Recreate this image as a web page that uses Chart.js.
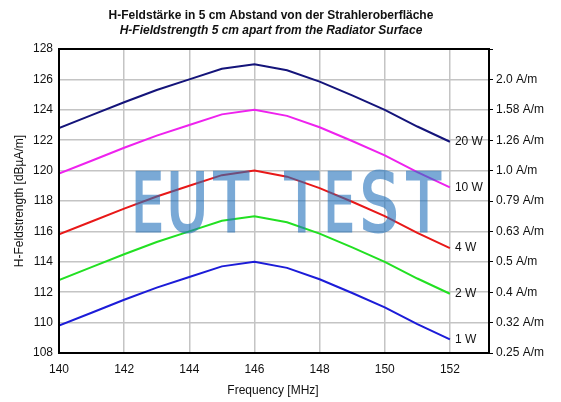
<!DOCTYPE html>
<html>
<head>
<meta charset="utf-8">
<script src="https://cdn.jsdelivr.net/npm/chart.js@4.4.1/dist/chart.umd.min.js"></script>
<style>
  html, body { margin: 0; padding: 0; background: #fff; }
  #wrap { width: 561px; height: 402px; }
</style>
</head>
<body>
<div id="wrap"><canvas id="feldChart" width="561" height="402"></canvas></div>
<script>
const freq = [140, 141, 142, 143, 144, 145, 146, 147, 148, 149, 150, 151, 152];
const w20 = [122.8, 123.65, 124.5, 125.3, 126.0, 126.7, 127.0, 126.6, 125.85, 124.95, 124.0, 122.9, 121.9];
const w10 = [119.8, 120.65, 121.5, 122.3, 123.0, 123.7, 124.0, 123.6, 122.85, 121.95, 121.0, 119.9, 118.9];
const w4  = [115.8, 116.65, 117.5, 118.3, 119.0, 119.7, 120.0, 119.6, 118.85, 117.95, 117.0, 115.9, 114.9];
const w2  = [112.8, 113.65, 114.5, 115.3, 116.0, 116.7, 117.0, 116.6, 115.85, 114.95, 114.0, 112.9, 111.9];
const w1  = [109.8, 110.65, 111.5, 112.3, 113.0, 113.7, 114.0, 113.6, 112.85, 111.95, 111.0, 109.9, 108.9];

const seriesNames = ['20 W', '10 W', '4 W', '2 W', '1 W'];
const seriesColors = ['#14147a', '#ee22ee', '#e81818', '#22e022', '#1c1cd8'];

const xTicks = [140, 142, 144, 146, 148, 150, 152];
const yTicks = [108, 110, 112, 114, 116, 118, 120, 122, 124, 126, 128];
const amTicks = ['0.25 A/m', '0.32 A/m', '0.4 A/m', '0.5 A/m', '0.63 A/m', '0.79 A/m',
                 '1.0 A/m', '1.26 A/m', '1.58 A/m', '2.0 A/m', ''];

const FONT = '"Liberation Sans", Arial, sans-serif';

// Wasserzeichen Buchstabe für Buchstabe: [Zeichen, linke Kante, Breite]
const wmLetters = [['E', 135, 27], ['U', 170, 35], ['T', 212, 38],
                   ['T', 283, 37], ['E', 327, 26], ['S', 362, 35], ['T', 405, 37]];

function toPoints(arr) {
    return arr.map((v, i) => ({ x: freq[i], y: v }));
}

const datasets = [w20, w10, w4, w2, w1].map((arr, i) => ({
    label: seriesNames[i],
    data: toPoints(arr),
    borderColor: seriesColors[i],
    borderWidth: 2,
    pointRadius: 0,
    tension: 0,
    fill: false
}));

// Wasserzeichen erst deckend auf eigene Leinwand, dann halbtransparent drüber
function watermark(chart) {
    const off = document.createElement('canvas');
    off.width = chart.width;
    off.height = chart.height;
    const c = off.getContext('2d');
    c.font = '81px "DejaVu Sans Condensed", "DejaVu Sans", sans-serif';
    c.textBaseline = 'alphabetic';
    c.fillStyle = '#2271bb';
    c.strokeStyle = '#2271bb';
    c.lineWidth = 3;
    wmLetters.forEach(([ch, left, width]) => {
        const m = c.measureText(ch);
        const ink = m.actualBoundingBoxLeft + m.actualBoundingBoxRight;
        const sx = (width - 3) / ink;
        c.save();
        c.translate(left + 1.5, 230.5);
        c.scale(sx, 1);
        c.translate(m.actualBoundingBoxLeft, 0);
        c.strokeText(ch, 0, 0);
        c.fillText(ch, 0, 0);
        c.restore();
    });
    return off;
}

// Texte, Rahmen, Beschriftungen und Wasserzeichen
const extras = {
    id: 'extras',
    afterDatasetsDraw(chart) {
        const ctx = chart.ctx;
        const a = chart.chartArea;
        const xs = chart.scales.x;
        const ys = chart.scales.y;
        ctx.save();

        // Rahmen
        ctx.strokeStyle = '#000';
        ctx.lineWidth = 2;
        ctx.strokeRect(a.left, a.top, a.right - a.left, a.bottom - a.top);

        // Leistungsangaben am Kurvenende
        ctx.fillStyle = '#111';
        ctx.font = '12px ' + FONT;
        ctx.textAlign = 'left';
        ctx.textBaseline = 'middle';
        chart.data.datasets.forEach(ds => {
            const last = ds.data[ds.data.length - 1];
            ctx.fillText(ds.label, xs.getPixelForValue(last.x) + 5, ys.getPixelForValue(last.y));
        });

        ctx.globalAlpha = 0.6;
        ctx.setTransform(1, 0, 0, 1, 0, 0);
        ctx.drawImage(watermark(chart), 0, 0, chart.canvas.width, chart.canvas.height);
        ctx.restore();

        ctx.save();
        ctx.fillStyle = '#111';
        ctx.textAlign = 'center';
        ctx.textBaseline = 'middle';
        ctx.font = 'bold 12px ' + FONT;
        ctx.fillText('H-Feldstärke in 5 cm Abstand von der Strahleroberfläche', 271, 16);
        ctx.font = 'italic bold 12px ' + FONT;
        ctx.fillText('H-Fieldstrength 5 cm apart from the Radiator Surface', 271, 31);

        ctx.font = '12px ' + FONT;
        ctx.fillText('Frequency [MHz]', 273, 391);

        ctx.translate(20, 201);
        ctx.rotate(-Math.PI / 2);
        ctx.fillText('H-Feldstrength [dBµA/m]', 0, 0);
        ctx.restore();
    }
};

const ctx = document.getElementById('feldChart').getContext('2d');
new Chart(ctx, {
    type: 'line',
    data: { datasets: datasets },
    plugins: [extras],
    options: {
        responsive: false,
        animation: false,
        devicePixelRatio: 1,
        layout: { padding: { top: 49, left: 0, right: 0, bottom: 0 } },
        plugins: {
            legend: { display: false },
            tooltip: { enabled: false }
        },
        scales: {
            x: {
                type: 'linear',
                min: 140,
                max: 153.2,
                afterBuildTicks: axis => { axis.ticks = xTicks.map(v => ({ value: v })); },
                afterFit: axis => { axis.height = 49; },
                grid: { color: '#c4c4c4', lineWidth: 1.5, drawTicks: false },
                border: { display: false },
                ticks: {
                    color: '#111',
                    font: { family: FONT, size: 12 },
                    padding: 9,
                    maxRotation: 0
                }
            },
            y: {
                position: 'left',
                min: 108,
                max: 128,
                afterBuildTicks: axis => { axis.ticks = yTicks.map(v => ({ value: v })); },
                afterFit: axis => { axis.width = 59; },
                grid: { color: '#c4c4c4', lineWidth: 1.5, drawTicks: false },
                border: { display: false },
                ticks: {
                    color: '#111',
                    font: { family: FONT, size: 12 },
                    padding: 6
                }
            },
            y2: {
                position: 'right',
                min: 108,
                max: 128,
                afterBuildTicks: axis => { axis.ticks = yTicks.map(v => ({ value: v })); },
                afterFit: axis => { axis.width = 72; },
                grid: { drawOnChartArea: false, color: '#000', lineWidth: 1, tickLength: 4 },
                border: { display: false },
                ticks: {
                    color: '#111',
                    font: { family: FONT, size: 12 },
                    padding: 3,
                    callback: (v) => amTicks[yTicks.indexOf(v)]
                }
            }
        }
    }
});
</script>
</body>
</html>
